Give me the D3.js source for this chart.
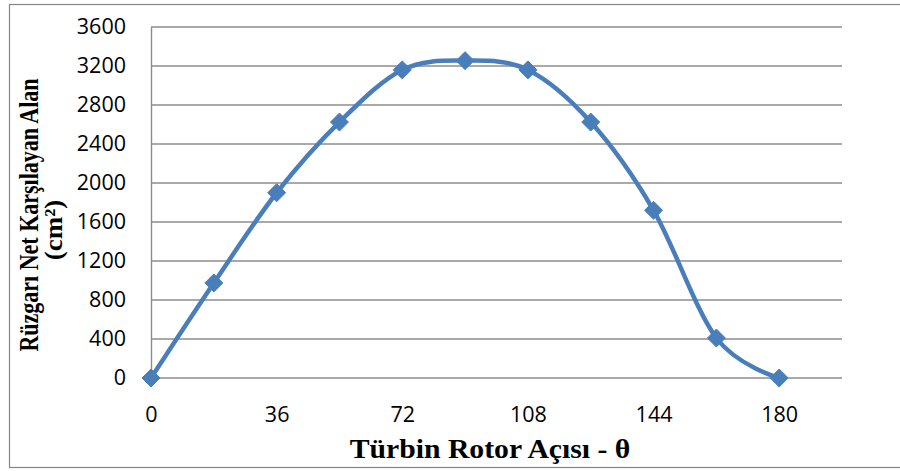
<!DOCTYPE html>
<html>
<head>
<meta charset="utf-8">
<script src="https://cdn.jsdelivr.net/npm/d3@7"></script>
<style>
  body { margin: 0; background: #fff; }
  svg { display: block; }
</style>
</head>
<body>
<script>
// rotor angle (degrees) and net area facing the wind (cm²)
let angles = [0, 18, 36, 54, 72, 90, 108, 126, 144, 162, 180]
let areas = [0, 975, 1900, 2625, 3160, 3255, 3160, 2625, 1720, 410, 0]
let xTicks = [0, 36, 72, 108, 144, 180]
let yTicks = [0, 400, 800, 1200, 1600, 2000, 2400, 2800, 3200, 3600]

let w = 900, h = 471
let plotLeft = 151, plotRight = 842, plotTop = 27, plotBottom = 378

let svg = d3.select("body").append("svg")
            .attr("width", w)
            .attr("height", h)

// outer chart border
svg.append("rect")
    .attr("x", 9.5).attr("y", 4.5)
    .attr("width", 900).attr("height", 463)
    .attr("fill", "none")
    .attr("stroke", "#868686")
    .attr("stroke-width", 1.2)

let xScale = d3.scaleLinear().domain([0, 198]).range([plotLeft, plotRight])
let yScale = d3.scaleLinear().domain([0, 3600]).range([plotBottom, plotTop])

// horizontal gridlines
svg.append("g")
    .selectAll("line")
    .data(yTicks)
    .enter()
    .append("line")
    .attr("x1", plotLeft).attr("x2", plotRight)
    .attr("y1", d => yScale(d)).attr("y2", d => yScale(d))
    .attr("stroke", "#8c8c8c")
    .attr("stroke-width", 1.4)

// y axis
let yAxis = d3.axisLeft(yScale).tickValues(yTicks).tickFormat(d3.format("d")).tickSize(0).tickPadding(25)
let gy = svg.append("g")
    .attr("transform", "translate(" + plotLeft + ",0)")
    .call(yAxis)
gy.select(".domain").attr("stroke", "#8c8c8c").attr("stroke-width", 1.4)
gy.selectAll("text")
    .attr("font-family", "'Open Sans', sans-serif")
    .attr("font-size", "21.5px")
    .attr("fill", "#000")

// x axis (no line, labels only)
let xAxis = d3.axisBottom(xScale).tickValues(xTicks).tickSize(0).tickPadding(29)
let gx = svg.append("g")
    .attr("transform", "translate(0," + plotBottom + ")")
    .call(xAxis)
gx.select(".domain").remove()
gx.selectAll("text")
    .attr("font-family", "'Open Sans', sans-serif")
    .attr("font-size", "21.5px")
    .attr("fill", "#000")

// smoothed line like Excel
let line = d3.line()
    .x((d, i) => xScale(angles[i]))
    .y(d => yScale(d))
    .curve(d3.curveCardinal.tension(0))

svg.append("path")
    .datum(areas)
    .attr("d", line)
    .attr("fill", "none")
    .attr("stroke", "#4a7ebb")
    .attr("stroke-width", 4.5)
    .attr("stroke-linejoin", "round")

// diamond markers
svg.selectAll(".marker")
    .data(areas)
    .enter()
    .append("path")
    .attr("class", "marker")
    .attr("transform", (d, i) => "translate(" + xScale(angles[i]) + "," + yScale(d) + ")")
    .attr("d", "M0,-9L9,0L0,9L-9,0Z")
    .attr("fill", "#4a7ebb")
    .attr("stroke", "#4a7ebb")
    .attr("stroke-width", 1)

// axis titles (slightly wider than tall, as in the picture)
svg.append("text")
    .attr("transform", "translate(490,458) scale(1.1,1)")
    .attr("text-anchor", "middle")
    .attr("font-family", "'Liberation Serif', serif")
    .attr("font-weight", "bold")
    .attr("font-size", "27px")
    .text("Türbin Rotor Açısı - θ")

svg.append("text")
    .attr("transform", "translate(38,215) scale(1.25,1) rotate(-90)")
    .attr("text-anchor", "middle")
    .attr("font-family", "'Liberation Serif', serif")
    .attr("font-weight", "bold")
    .attr("font-size", "22px")
    .text("Rüzgarı Net Karşılayan Alan")

svg.append("text")
    .attr("transform", "translate(62,230) scale(0.95,1) rotate(-90)")
    .attr("text-anchor", "middle")
    .attr("font-family", "'Liberation Serif', serif")
    .attr("font-weight", "bold")
    .attr("font-size", "27px")
    .text("(cm²)")
</script>
</body>
</html>
